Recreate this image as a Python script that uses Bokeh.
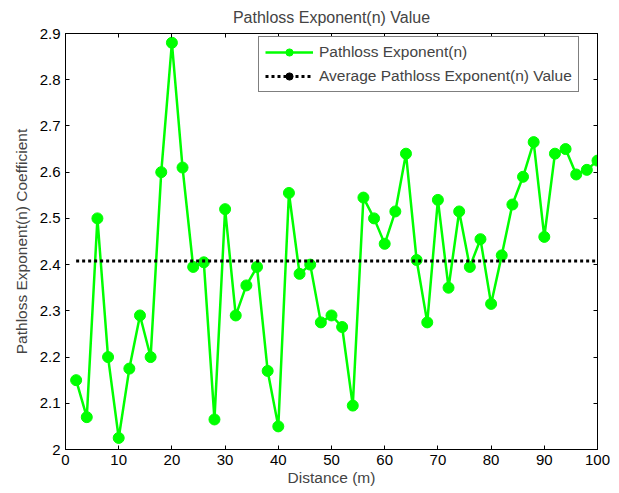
from bokeh.plotting import figure
from bokeh.models import (LinearAxis, FixedTicker, CustomJSTickFormatter, Legend, LegendItem,
                          Range1d, ColumnDataSource)
from bokeh.embed import file_html
from bokeh.resources import INLINE

distance = [2, 4, 6, 8, 10, 12, 14, 16, 18, 20, 22, 24, 26, 28, 30, 32, 34, 36, 38, 40,
            42, 44, 46, 48, 50, 52, 54, 56, 58, 60, 62, 64, 66, 68, 70, 72, 74, 76, 78, 80,
            82, 84, 86, 88, 90, 92, 94, 96, 98, 100]
exponent = [2.15, 2.07, 2.50, 2.20, 2.025, 2.175, 2.29, 2.20, 2.60, 2.88,
            2.61, 2.395, 2.405, 2.065, 2.52, 2.29, 2.355, 2.395, 2.17, 2.05,
            2.555, 2.38, 2.40, 2.275, 2.29, 2.265, 2.095, 2.545, 2.50, 2.445,
            2.515, 2.64, 2.41, 2.275, 2.54, 2.35, 2.515, 2.395, 2.455, 2.315,
            2.42, 2.53, 2.59, 2.665, 2.46, 2.64, 2.65, 2.595, 2.605, 2.625]
avg_x = [2, 100]
avg_value = [2.408, 2.408]
x_ticks = [0, 10, 20, 30, 40, 50, 60, 70, 80, 90, 100]
y_ticks = [2.0, 2.1, 2.2, 2.3, 2.4, 2.5, 2.6, 2.7, 2.8, 2.9]

FONT = "Liberation Sans"
GREEN = "#00ff00"

p = figure(frame_width=532, frame_height=416, output_backend="svg", toolbar_location=None,
           x_range=Range1d(0, 100), y_range=Range1d(2, 2.9),
           min_border_left=65, min_border_right=13, min_border_top=33, min_border_bottom=42,
           title="Pathloss Exponent(n) Value")
p.title.align = "center"
p.title.vertical_align = "top"
p.title.text_font = FONT
p.title.text_font_size = "16px"
p.title.text_font_style = "normal"
p.title.offset = 0
p.title.standoff = 12

p.xgrid.visible = False
p.ygrid.visible = False
p.outline_line_color = "black"
p.outline_line_width = 1
p.background_fill_color = "white"
p.border_fill_color = "white"

# separate range used only so the legend's '.' marker is not drawn on the plotted average line
p.extra_y_ranges = {"legend_only": Range1d(100, 101)}

fmt = CustomJSTickFormatter(code="return String(Math.round(tick*10)/10);")

def style_axis(ax, ticks, labels=True):
    ax.ticker = FixedTicker(ticks=ticks)
    ax.formatter = fmt
    ax.major_tick_in = 4
    ax.major_tick_out = 0
    ax.minor_tick_line_color = None
    ax.axis_line_color = "black"
    ax.major_tick_line_color = "black"
    ax.major_label_text_font = FONT
    ax.major_label_text_font_size = "15px"
    ax.major_label_text_color = "black"
    ax.axis_label_text_font = FONT
    ax.axis_label_text_font_size = "15.5px"
    ax.axis_label_text_font_style = "normal"
    if not labels:
        ax.major_label_text_alpha = 0
        ax.major_label_text_font_size = "0px"

style_axis(p.xaxis[0], x_ticks)
style_axis(p.yaxis[0], y_ticks)
p.xaxis[0].axis_label = "Distance (m)"
p.xaxis[0].axis_label_standoff = 1
p.xaxis[0].major_label_standoff = 5
p.yaxis[0].axis_label = "Pathloss Exponent(n) Coefficient"
p.yaxis[0].axis_label_standoff = 7
p.yaxis[0].major_label_standoff = 5

top_ax = LinearAxis()
style_axis(top_ax, x_ticks, labels=False)
p.add_layout(top_ax, "above")
right_ax = LinearAxis()
style_axis(right_ax, y_ticks, labels=False)
p.add_layout(right_ax, "right")

src = ColumnDataSource(dict(x=distance, y=exponent))
ln = p.line("x", "y", source=src, line_color=GREEN, line_width=2.5)
sc = p.scatter("x", "y", source=src, size=11, fill_color=GREEN, line_color=GREEN)

asrc = ColumnDataSource(dict(x=avg_x, y=avg_value))
aln = p.line("x", "y", source=asrc, line_color="black", line_width=3, line_dash="3 3")
adot = p.scatter("x", "y", source=asrc, size=6, fill_color="black", line_color="black",
                 y_range_name="legend_only")

legend = Legend(items=[LegendItem(label="Pathloss Exponent(n)", renderers=[ln, sc]),
                       LegendItem(label="Average Pathloss Exponent(n) Value", renderers=[aln, adot])],
                location=(193, 357))
legend.label_text_font = FONT
legend.label_text_font_size = "15.5px"
legend.glyph_width = 48
legend.glyph_height = 18
legend.label_height = 18
legend.label_standoff = 6
legend.spacing = 6
legend.padding = 6
legend.margin = 0
legend.border_line_color = "black"
legend.border_line_width = 1
legend.background_fill_color = "white"
legend.background_fill_alpha = 1
p.add_layout(legend, "center")

open("out.html", "w").write(file_html(p, INLINE))
